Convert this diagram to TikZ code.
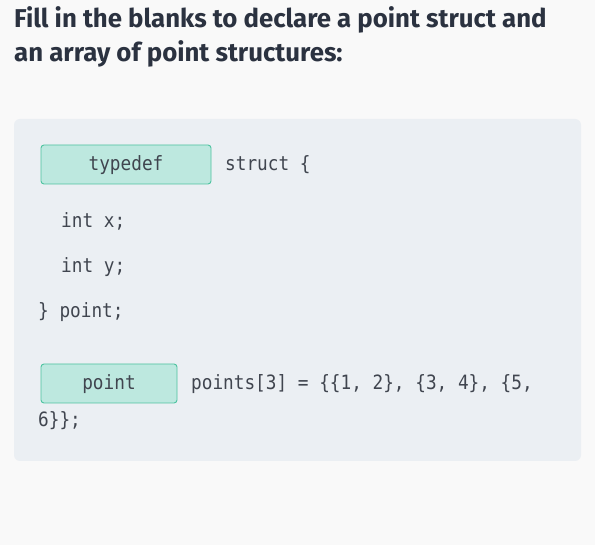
\documentclass[tikz,border=0pt]{standalone}
\usepackage{fontspec}
\setmainfont{Fira Sans}
\newfontfamily\codefont[FakeStretch=0.9]{DejaVu Sans Mono}
\definecolor{pagebg}{HTML}{F9F9F9}
\definecolor{panelbg}{HTML}{EBEFF3}
\definecolor{titletext}{HTML}{2B3240}
\definecolor{codetext}{HTML}{40454F}
\definecolor{blankfill}{HTML}{BDE8DF}
\definecolor{blankline}{HTML}{4EC3A0}

\begin{document}
\begin{tikzpicture}[x=1pt,y=-1pt]
	\tikzstyle{title} = [anchor=base west,inner sep=0pt,font=\fontsize{25.8}{30}\selectfont\bfseries,text=titletext]
	\tikzstyle{code}  = [anchor=base west,inner sep=0pt,font=\codefont\fontsize{19.7}{23}\selectfont,text=codetext]
	\tikzstyle{blank} = [rectangle,rounded corners=3pt,draw=blankline,fill=blankfill,line width=0.9pt]
	
	\fill[pagebg] (0,0) rectangle (595,545);
	\useasboundingbox (0,0) rectangle (595,545);
	
	\node[title] (line1) at (14,28) {Fill in the blanks to declare a point struct and};
	\node[title] (line2) at (14,62) {an array of point structures:};
	
	\fill[panelbg,rounded corners=6pt] (14,119) rectangle (581,461);
	
	\draw[blank] (41,145) rectangle (211,184);
	\node[code,anchor=base] (typedef) at (126,171) {typedef};
	\node[code] (struct) at (225,171) {struct \{};
	
	\node[code] (intx) at (61,228) {int x;};
	\node[code] (inty) at (61,273) {int y;};
	\node[code] (close) at (38,318) {\} point;};
	
	\draw[blank] (41,364) rectangle (177,403);
	\node[code,anchor=base] (point) at (109,390) {point};
	\node[code] (points) at (191,390) {points[3] = \{\{1, 2\}, \{3, 4\}, \{5,};
	\node[code] (six) at (38,427) {6\}\};};
\end{tikzpicture}
\end{document}
